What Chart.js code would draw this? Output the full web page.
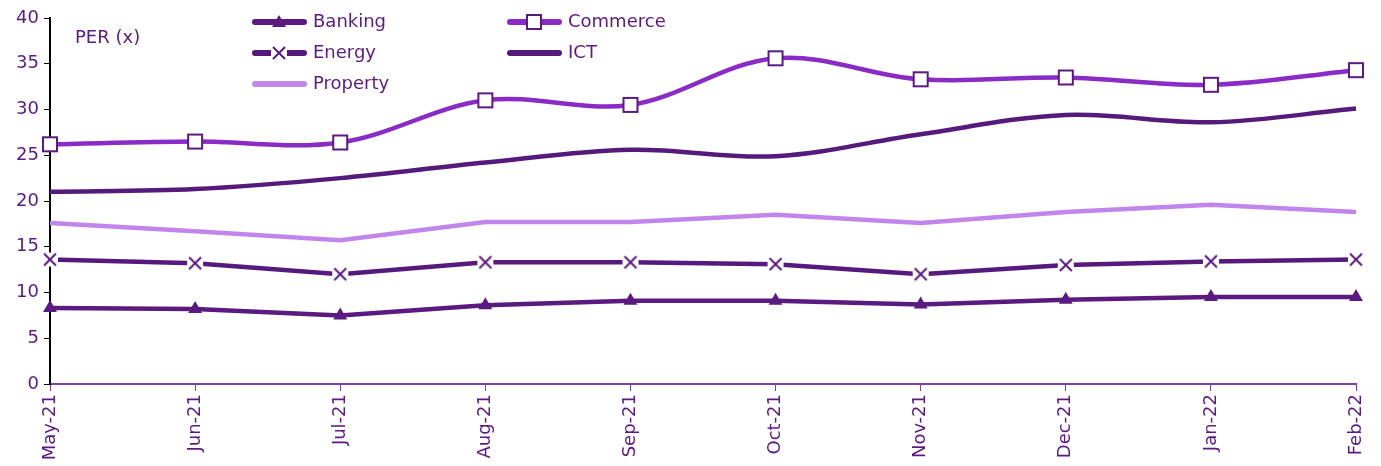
<!DOCTYPE html>
<html>
<head>
<meta charset="utf-8">
<script src="https://cdn.jsdelivr.net/npm/chart.js@4.4.1/dist/chart.umd.min.js"></script>
<style>
  html, body { margin: 0; padding: 0; background: #fff; }
  #wrap { width: 1381px; height: 466px; position: relative; }
</style>
</head>
<body>
<div id="wrap"><canvas id="per-chart"></canvas></div>
<script>
// Sector price/earnings ratios, monthly
const months = ['May-21', 'Jun-21', 'Jul-21', 'Aug-21', 'Sep-21', 'Oct-21', 'Nov-21', 'Dec-21', 'Jan-22', 'Feb-22'];
const banking = [8.3, 8.2, 7.5, 8.6, 9.1, 9.1, 8.7, 9.2, 9.5, 9.5];
const commerce = [26.2, 26.5, 26.4, 31.0, 30.5, 35.6, 33.3, 33.5, 32.7, 34.3];
const energy = [13.6, 13.2, 12.0, 13.3, 13.3, 13.1, 12.0, 13.0, 13.4, 13.6];
const ict = [21.0, 21.3, 22.5, 24.2, 25.6, 24.9, 27.3, 29.4, 28.6, 30.1];
const property = [17.6, 16.7, 15.7, 17.7, 17.7, 18.5, 17.6, 18.8, 19.6, 18.8];
const yTicks = [0, 5, 10, 15, 20, 25, 30, 35, 40];

const TEXT = '#5a1a80';
const FONT = 'DejaVu Sans';

// white-backed cross marker so the line breaks around it
function crossMarker(color) {
    const c = document.createElement('canvas');
    c.width = 18; c.height = 18;
    const g = c.getContext('2d');
    g.fillStyle = '#fff';
    g.fillRect(1, 2, 16, 14);
    g.strokeStyle = color;
    g.lineWidth = 2;
    g.beginPath();
    g.moveTo(3, 3); g.lineTo(15, 15);
    g.moveTo(15, 3); g.lineTo(3, 15);
    g.stroke();
    return c;
}

function squareMarker(color) {
    const c = document.createElement('canvas');
    c.width = 18; c.height = 18;
    const g = c.getContext('2d');
    g.fillStyle = '#fff';
    g.fillRect(2, 2, 14, 14);
    g.strokeStyle = color;
    g.lineWidth = 2;
    g.strokeRect(2, 2, 14, 14);
    return c;
}

const datasets = [
    {
        label: 'Banking', data: banking,
        borderColor: '#5a1a80', backgroundColor: '#5a1a80',
        borderWidth: 4.5, tension: 0,
        pointStyle: 'triangle', pointRadius: 8, pointBorderWidth: 0,
        legendCol: 0, legendRow: 0
    },
    {
        label: 'Commerce', data: commerce,
        borderColor: '#8a2bc6', backgroundColor: '#fff',
        borderWidth: 4.5, tension: 0.35,
        pointStyle: squareMarker('#5a1a80'), pointRadius: 9,
        legendCol: 1, legendRow: 0
    },
    {
        label: 'Energy', data: energy,
        borderColor: '#561a7f', backgroundColor: '#fff',
        borderWidth: 4.5, tension: 0,
        pointStyle: crossMarker('#5a1a80'), pointRadius: 9,
        legendCol: 0, legendRow: 1
    },
    {
        label: 'ICT', data: ict,
        borderColor: '#561a7c', backgroundColor: '#561a7c',
        borderWidth: 4.5, tension: 0.35,
        pointRadius: 0,
        legendCol: 1, legendRow: 1
    },
    {
        label: 'Property', data: property,
        borderColor: '#c285ec', backgroundColor: '#c285ec',
        borderWidth: 4.5, tension: 0,
        pointRadius: 0,
        legendCol: 0, legendRow: 2
    }
];

// legend and axis caption drawn inside the plot area
const overlay = {
    id: 'overlay',
    afterDatasetsDraw(chart) {
        const ctx = chart.ctx;
        ctx.save();
        ctx.font = `18px "${FONT}"`;
        ctx.fillStyle = TEXT;
        ctx.textBaseline = 'middle';
        ctx.fillText('PER (x)', 75, 38);

        const colX = [252, 507];
        const rowY = [22, 53, 84];
        chart.data.datasets.forEach(ds => {
            const x = colX[ds.legendCol];
            const y = rowY[ds.legendRow];
            ctx.strokeStyle = ds.borderColor;
            ctx.lineWidth = 6;
            ctx.lineCap = 'round';
            ctx.beginPath();
            ctx.moveTo(x + 3, y);
            ctx.lineTo(x + 52, y);
            ctx.stroke();
            const mx = x + 27;
            if (ds.pointStyle instanceof HTMLCanvasElement) {
                const w = ds.pointStyle.width;
                ctx.drawImage(ds.pointStyle, mx - w / 2, y - w / 2);
            } else if (ds.pointStyle === 'triangle') {
                ctx.fillStyle = ds.backgroundColor;
                ctx.beginPath();
                ctx.moveTo(mx, y - 7);
                ctx.lineTo(mx + 7, y + 5);
                ctx.lineTo(mx - 7, y + 5);
                ctx.closePath();
                ctx.fill();
            }
            ctx.fillStyle = TEXT;
            ctx.fillText(ds.label, x + 61, y);
        });
        ctx.restore();
    }
};

new Chart(document.getElementById('per-chart'), {
    type: 'line',
    data: { labels: months, datasets },
    plugins: [overlay],
    options: {
        responsive: true,
        maintainAspectRatio: false,
        animation: false,
        layout: { padding: { top: 18, right: 25, left: 0, bottom: 0 } },
        plugins: {
            legend: { display: false },
            tooltip: { enabled: false }
        },
        scales: {
            x: {
                offset: false,
                afterFit: s => { s.height = 82; },
                border: { color: '#7b3fa8', width: 2 },
                grid: { drawOnChartArea: false, color: '#7b3fa8', tickLength: 7 },
                ticks: {
                    color: TEXT,
                    font: { family: FONT, size: 18 },
                    minRotation: 90,
                    maxRotation: 90,
                    padding: 3
                }
            },
            y: {
                min: 0,
                max: 40,
                afterFit: s => { s.width = 50; },
                afterBuildTicks: s => { s.ticks = yTicks.map(v => ({ value: v })); },
                border: { color: '#000', width: 2 },
                grid: { drawOnChartArea: false, color: '#000', tickLength: 6 },
                ticks: {
                    color: TEXT,
                    font: { family: FONT, size: 18 },
                    padding: 5
                }
            }
        }
    }
});
</script>
</body>
</html>
